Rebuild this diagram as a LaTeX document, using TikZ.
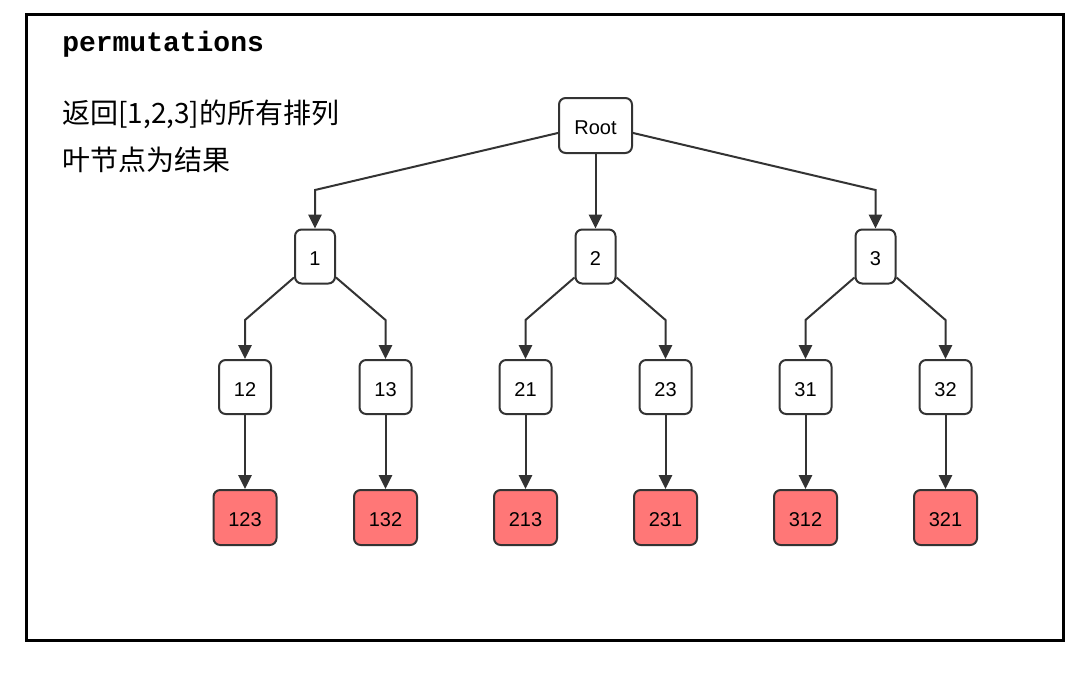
\documentclass[tikz,border=0pt]{standalone}
\usepackage{fontspec}
\setmainfont{Liberation Sans}
\newfontfamily\cjkfont{Noto Sans CJK SC}
\newfontfamily\codefont{Liberation Mono}
\usetikzlibrary{arrows.meta,calc}
\definecolor{edgegray}{HTML}{333333}
\definecolor{leafred}{HTML}{FF7777}
\begin{document}
\begin{tikzpicture}[x=0.75pt,y=-0.75pt,
  box/.style={draw=edgegray, line width=1.5pt, rounded corners=5pt, fill=white,
    inner sep=0pt, text height=13.5pt, text depth=0pt, font=\fontsize{15pt}{18pt}\selectfont},
  rootbox/.style={box, minimum width=54.75pt, minimum height=41.25pt},
  lonebox/.style={box, minimum width=30pt, minimum height=40.5pt},
  ltwobox/.style={box, minimum width=39pt, minimum height=40.5pt},
  leafbox/.style={box, fill=leafred, minimum width=47.25pt, minimum height=41.25pt},
  edge/.style={draw=edgegray, line width=1.5pt, -{Triangle[length=10.5pt,width=10pt]}},
  cjktext/.style={anchor=base west, inner sep=0pt, font=\cjkfont\fontsize{21pt}{25pt}\selectfont},
  titletext/.style={anchor=base west, inner sep=0pt, font=\codefont\bfseries\fontsize{21pt}{25pt}\selectfont}
]
\useasboundingbox (0,0) rectangle (1088,675);
\draw[line width=2.25pt] (26.5,14.5) rectangle (1063.5,640.5);

\node[titletext] (title) at (62,51) {permutations};
\node[cjktext] (line1) at (62,123) {返回[1,2,3]的所有排列};
\node[cjktext] (line2) at (62,170) {叶节点为结果};

\coordinate (lvlone) at (0,190);
\coordinate (lvltwo) at (0,320);

\node[rootbox] (root) at (595.5,125.5) {Root};
\node[lonebox] (n1) at (315,256.5) {1};
\node[lonebox] (n2) at (595.5,256.5) {2};
\node[lonebox] (n3) at (875.5,256.5) {3};

\node[ltwobox] (n12) at (245,387) {12};
\node[ltwobox] (n13) at (385.5,387) {13};
\node[ltwobox] (n21) at (525.5,387) {21};
\node[ltwobox] (n23) at (665.5,387) {23};
\node[ltwobox] (n31) at (805.5,387) {31};
\node[ltwobox] (n32) at (945.5,387) {32};

\node[leafbox] (n123) at (245,517.5) {123};
\node[leafbox] (n132) at (385.5,517.5) {132};
\node[leafbox] (n213) at (525.5,517.5) {213};
\node[leafbox] (n231) at (665.5,517.5) {231};
\node[leafbox] (n312) at (805.5,517.5) {312};
\node[leafbox] (n321) at (945.5,517.5) {321};

\draw[edge] ([yshift=-5.6pt]root.west) -- (n1.north |- lvlone) -- (n1.north);
\draw[edge] (root.south) -- (n2.north);
\draw[edge] ([yshift=-5.6pt]root.east) -- (n3.north |- lvlone) -- (n3.north);

\draw[edge] (n1.-135) -- (n12.north |- lvltwo) -- (n12.north);
\draw[edge] (n1.-45) -- (n13.north |- lvltwo) -- (n13.north);
\draw[edge] (n2.-135) -- (n21.north |- lvltwo) -- (n21.north);
\draw[edge] (n2.-45) -- (n23.north |- lvltwo) -- (n23.north);
\draw[edge] (n3.-135) -- (n31.north |- lvltwo) -- (n31.north);
\draw[edge] (n3.-45) -- (n32.north |- lvltwo) -- (n32.north);

\draw[edge] (n12.south) -- (n123.north);
\draw[edge] (n13.south) -- (n132.north);
\draw[edge] (n21.south) -- (n213.north);
\draw[edge] (n23.south) -- (n231.north);
\draw[edge] (n31.south) -- (n312.north);
\draw[edge] (n32.south) -- (n321.north);
\end{tikzpicture}
\end{document}
